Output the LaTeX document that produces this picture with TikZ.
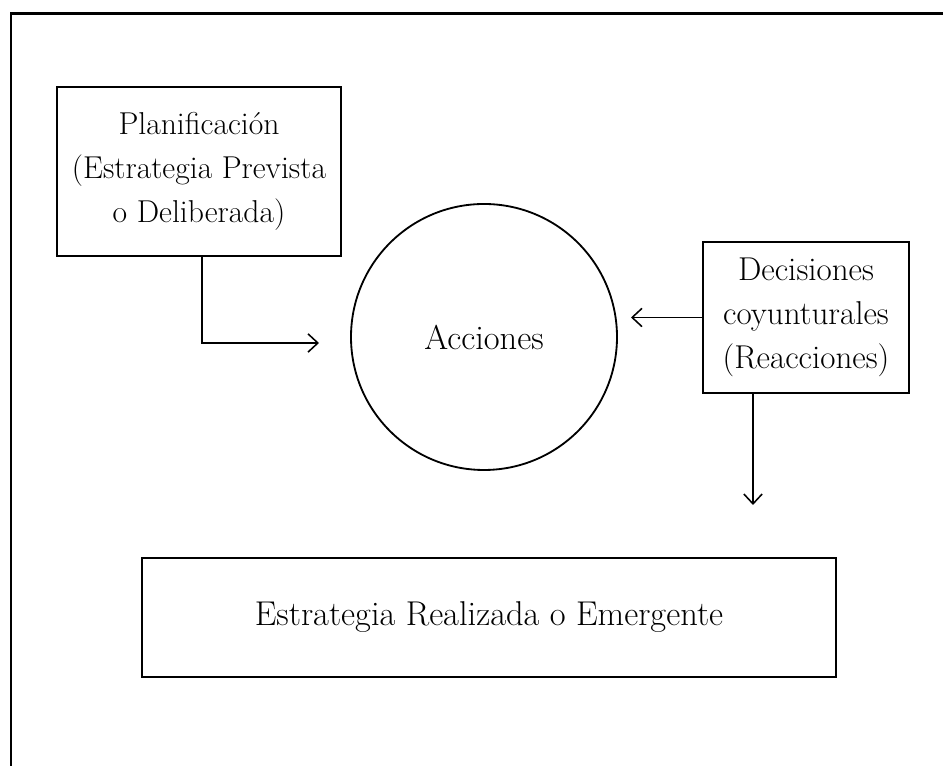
\documentclass[tikz,border=0pt]{standalone}
\usepackage{tikz}
\usetikzlibrary{arrows.meta}
\tikzset{
  caja/.style={draw, line width=1.8pt, inner sep=0pt, align=center, font=\fontsize{24.5}{31.5}\selectfont},
  circulo/.style={draw, circle, line width=1.3pt, inner sep=0pt, minimum size=6.65cm, font=\fontsize{24.5}{31.5}\selectfont},
  flecha/.style={line width=1.1pt, -{Straight Barb[length=7pt,width=13pt]}}
}
\begin{document}
\begin{tikzpicture}
\useasboundingbox (0,0) rectangle (23.575,19.15);
% marco
\draw[line width=1.8pt] (0.275,0) -- (0.275,18.8125) -- (23.575,18.8125);
% cajas
\node[caja, minimum width=7.1cm, minimum height=4.225cm, font=\fontsize{22.5}{31.5}\selectfont] (plan) at (4.975,14.8625) {Planificación\\(Estrategia Prevista\\o Deliberada)};
\node[circulo] (acc) at (12.1,10.725) {Acciones};
\node[caja, minimum width=5.15cm, minimum height=3.775cm, font=\fontsize{23.5}{31.5}\selectfont] (deci) at (20.15,11.2125) {Decisiones\\coyunturales\\(Reacciones)};
\node[caja, minimum width=17.35cm, minimum height=2.975cm] (real) at (12.225,3.7125) {Estrategia Realizada o Emergente};
% flechas
\coordinate (p1) at (7.975,10.575);
\coordinate (d1) at (15.775,11.2125);
\coordinate (d2) at (18.825,6.525);
\draw[flecha] (plan.south -| 5.05,0) |- (p1);
\draw[flecha] (deci.west) -- (d1);
\draw[flecha] (deci.south -| d2) -- (d2);
\end{tikzpicture}
\end{document}
